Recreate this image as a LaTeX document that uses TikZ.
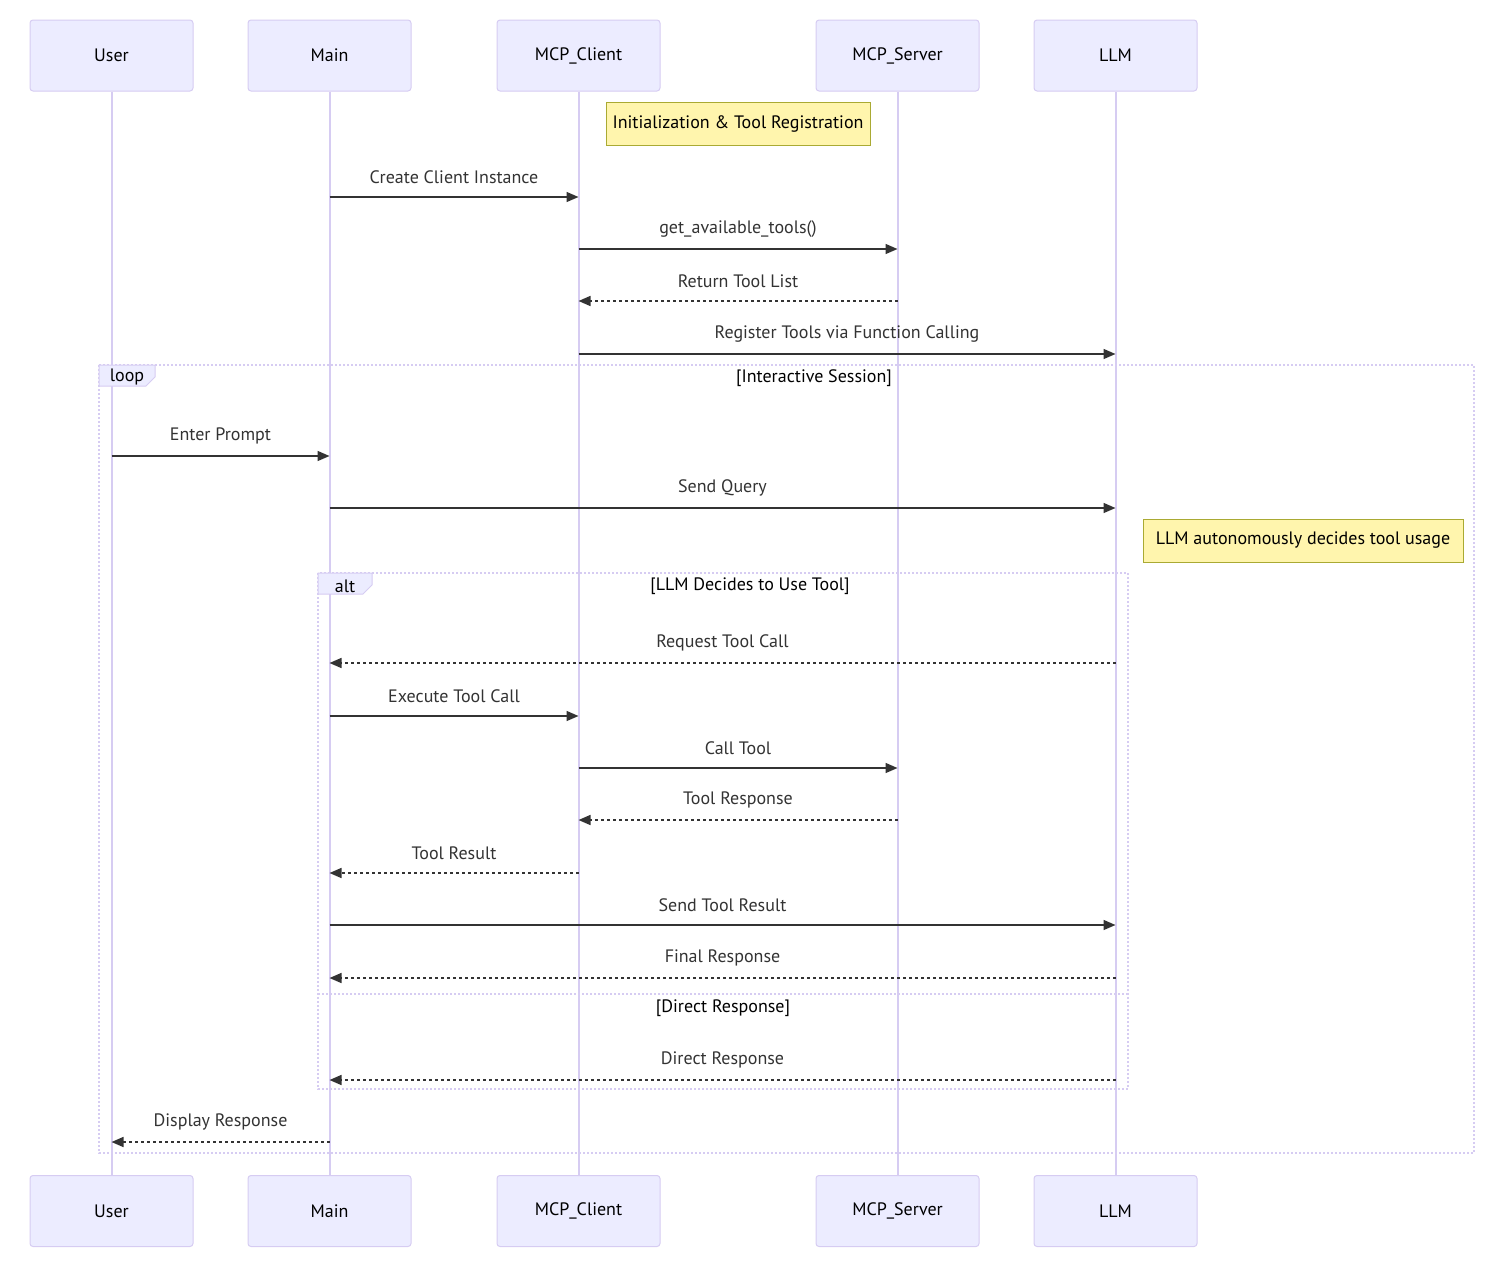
\documentclass[tikz,border=0pt]{standalone}
\usepackage{fontspec}
\setmainfont{PT Sans}
\usetikzlibrary{arrows.meta}

\definecolor{actorfill}{HTML}{ECECFF}
\definecolor{actorline}{HTML}{D6CCF2}
\definecolor{notefill}{HTML}{FFF5AD}
\definecolor{noteline}{HTML}{AAAA33}
\definecolor{msgcol}{HTML}{333333}

\tikzset{
  actor/.style={draw=actorline, fill=actorfill, line width=1pt, rounded corners=3pt,
    minimum width=163pt, minimum height=71pt, inner sep=0pt, font=\fontsize{18}{21}\selectfont},
  life/.style={draw=actorline, line width=2pt},
  msg/.style={draw=msgcol, line width=1.5pt, -{Triangle[length=12pt,width=10pt]}},
  reply/.style={msg, dash pattern=on 3pt off 3pt},
  lbl/.style={text=msgcol, font=\fontsize{18}{21}\selectfont, midway, yshift=20pt},
  note/.style={draw=noteline, fill=notefill, line width=1pt, inner sep=0pt,
    font=\fontsize{18}{21}\selectfont},
  frame/.style={draw=actorline, line width=2pt, dash pattern=on 2pt off 2pt},
  tab/.style={draw=actorline, fill=actorfill, line width=1pt},
  guard/.style={font=\fontsize{18}{21}\selectfont}
}

\begin{document}
\begin{tikzpicture}[x=1pt,y=-1pt]
\useasboundingbox (0,0) rectangle (1502,1274);

% actors
\node[actor] (user) at (111.5,55.5) {User};
\node[actor] (main) at (329.5,55.5) {Main};
\node[actor] (client) at (578.5,55.5) {MCP\_Client};
\node[actor] (server) at (897.5,55.5) {MCP\_Server};
\node[actor] (llm) at (1115.5,55.5) {LLM};

\node[actor] (userb) at (111.5,1211) {User};
\node[actor] (mainb) at (329.5,1211) {Main};
\node[actor] (clientb) at (578.5,1211) {MCP\_Client};
\node[actor] (serverb) at (897.5,1211) {MCP\_Server};
\node[actor] (llmb) at (1115.5,1211) {LLM};

% lifelines
\draw[life] (user) -- (userb);
\draw[life] (main) -- (mainb);
\draw[life] (client) -- (clientb);
\draw[life] (server) -- (serverb);
\draw[life] (llm) -- (llmb);

% frames
\draw[frame] (99,365) rectangle (1474,1153);
\draw[tab] (99,365) -- (155,365) -- (155,377) -- (146,386) -- (99,386) -- cycle;
\node[guard] (looplbl) at (127,377) {loop};
\node[guard] (loopcond) at (814,378) {[Interactive Session]};

\draw[frame] (318,573) rectangle (1128,1089);
\draw[frame] (318,994) -- (1128,994);
\draw[tab] (318,573) -- (372,573) -- (372,585) -- (363,594) -- (318,594) -- cycle;
\node[guard] (altlbl) at (345,586) {alt};
\node[guard] (altcond) at (750,586) {[LLM Decides to Use Tool]};
\node[guard] (elsecond) at (723,1008) {[Direct Response]};

% notes
\node[note, minimum width=264pt, minimum height=43pt] (init) at (738,123.5) {Initialization \& Tool Registration};
\node[note, minimum width=320pt, minimum height=43pt] (decide) at (1303,540.5) {LLM autonomously decides tool usage};

% messages
\draw[msg] (main |- 0,197) -- node[lbl] {Create Client Instance} (client |- 0,197);
\draw[msg] (client |- 0,249) -- node[lbl] {get\_available\_tools()} (server |- 0,249);
\draw[reply] (server |- 0,301) -- node[lbl] {Return Tool List} (client |- 0,301);
\draw[msg] (client |- 0,354) -- node[lbl] {Register Tools via Function Calling} (llm |- 0,354);

\draw[msg] (user |- 0,456) -- node[lbl] {Enter Prompt} (main |- 0,456);
\draw[msg] (main |- 0,508) -- node[lbl] {Send Query} (llm |- 0,508);

\draw[reply] (llm |- 0,663) -- node[lbl] {Request Tool Call} (main |- 0,663);
\draw[msg] (main |- 0,716) -- node[lbl] {Execute Tool Call} (client |- 0,716);
\draw[msg] (client |- 0,768) -- node[lbl] {Call Tool} (server |- 0,768);
\draw[reply] (server |- 0,820) -- node[lbl] {Tool Response} (client |- 0,820);
\draw[reply] (client |- 0,873) -- node[lbl] {Tool Result} (main |- 0,873);
\draw[msg] (main |- 0,925) -- node[lbl] {Send Tool Result} (llm |- 0,925);
\draw[reply] (llm |- 0,978) -- node[lbl] {Final Response} (main |- 0,978);

\draw[reply] (llm |- 0,1080) -- node[lbl] {Direct Response} (main |- 0,1080);

\draw[reply] (main |- 0,1142) -- node[lbl] {Display Response} (user |- 0,1142);
\end{tikzpicture}
\end{document}
